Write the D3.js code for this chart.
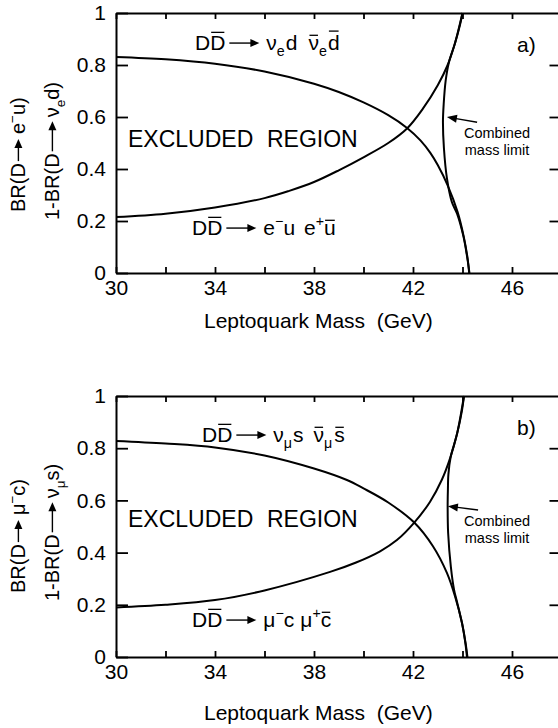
<!DOCTYPE html>
<html>
<head>
<meta charset="utf-8">
<script src="https://cdn.jsdelivr.net/npm/d3@7"></script>
<style>
  body { margin: 0; background: #fff; }
  text { font-family: "Liberation Sans", Arial, Helvetica, sans-serif; fill: #000; }
</style>
</head>
<body>
<svg id="chart" width="558" height="728"></svg>
<script>
// tick labels
const massTicks = [30, 34, 38, 42, 46]
const massMinor = [32, 36, 40, 44]
const brTicks = [0, 0.2, 0.4, 0.6, 0.8, 1]
const brTickLabels = ['0', '0.2', '0.4', '0.6', '0.8', '1']

// panel a) : D -> nu_e d  vs  D -> e u
const aNuMass = [30, 32, 34, 36, 38, 39, 40, 41, 41.76, 42.3, 42.7, 43.0, 43.4, 43.8, 44.05, 44.2, 44.27]
const aNuBR = [0.831, 0.822, 0.805, 0.775, 0.728, 0.696, 0.656, 0.607, 0.558, 0.510, 0.462, 0.415, 0.337, 0.235, 0.140, 0.060, 0]
const aEMass = [30, 32, 34, 36, 37, 38, 39, 40, 41, 41.76, 42.4, 43.0, 43.4, 43.7, 43.9, 44.0]
const aEBR = [0.215, 0.228, 0.252, 0.288, 0.316, 0.350, 0.395, 0.445, 0.500, 0.556, 0.632, 0.722, 0.800, 0.885, 0.955, 1.0]
const aCombMass = [44.0, 43.7, 43.45, 43.32, 43.24, 43.21, 43.25, 43.37, 43.57, 43.78, 44.04, 44.19, 44.28]
const aCombBR = [1.0, 0.885, 0.81, 0.74, 0.65, 0.58, 0.48, 0.365, 0.273, 0.228, 0.14, 0.06, 0]

// panel b) : D -> nu_mu s  vs  D -> mu c
const bNuMass = [30, 32, 34, 36, 38, 39.33, 40, 41, 42.05, 42.8, 43.37, 43.7, 43.98, 44.12, 44.18]
const bNuBR = [0.828, 0.818, 0.803, 0.772, 0.722, 0.678, 0.646, 0.592, 0.515, 0.425, 0.322, 0.232, 0.130, 0.050, 0]
const bMuMass = [30, 32, 34, 36, 38.65, 39.7, 40.67, 41.35, 42.05, 42.69, 43.17, 43.5, 43.78, 43.98, 44.06]
const bMuBR = [0.19, 0.20, 0.218, 0.255, 0.326, 0.362, 0.405, 0.448, 0.515, 0.595, 0.68, 0.762, 0.855, 0.945, 1.0]
const bCombMass = [44.06, 43.78, 43.52, 43.43, 43.41, 43.40, 43.42, 43.53, 43.66, 43.76, 43.98, 44.13, 44.2]
const bCombBR = [1.0, 0.855, 0.765, 0.70, 0.64, 0.575, 0.475, 0.345, 0.257, 0.218, 0.13, 0.05, 0]

const svg = d3.select('#chart')
const x = d3.scaleLinear().domain([30, 48]).range([116, 561.5])

// draws text pieces one after another (sub/sup, overbars, long arrows)
function rich (g, x0, y0, parts, size) {
  let cx = x0
  parts.forEach(p => {
    if (p.gap) { cx += p.gap; return }
    if (p.arrow) {
      const ay = y0 - size * 0.33
      g.append('line')
          .attr('x1', cx).attr('x2', cx + p.arrow - 6)
          .attr('y1', ay).attr('y2', ay)
          .attr('stroke', '#000').attr('stroke-width', 1.4)
      g.append('path')
          .attr('d', `M${cx + p.arrow},${ay}L${cx + p.arrow - 9},${ay - 4}L${cx + p.arrow - 9},${ay + 4}Z`)
          .attr('fill', '#000')
      cx += p.arrow
      return
    }
    const fs = (p.sub || p.sup) ? size * 0.68 : size
    const ty = p.sub ? y0 + size * 0.28 : p.sup ? y0 - size * 0.42 : y0
    const t = g.append('text').attr('x', cx).attr('y', ty)
        .attr('font-size', fs).text(p.t)
    const w = t.node().getComputedTextLength()
    if (p.bar) {
      const by = ty - fs * p.bar
      g.append('line')
          .attr('x1', cx + 1).attr('x2', cx + w - 1)
          .attr('y1', by).attr('y2', by)
          .attr('stroke', '#000').attr('stroke-width', 1.3)
    }
    cx += w
  })
}

function drawPanel (cfg) {
  const y = d3.scaleLinear().domain([0, 1]).range([cfg.bottom, cfg.top])
  const g = svg.append('g')

  const axisStyle = sel => {
    sel.selectAll('path.domain').attr('stroke-width', 2)
    sel.selectAll('.tick line').attr('stroke-width', 1.8)
    sel.selectAll('text').attr('font-size', 21)
        .attr('font-family', '"Liberation Sans", Arial, sans-serif')
  }

  g.append('g').attr('transform', `translate(0,${cfg.bottom})`)
      .call(d3.axisBottom(x).tickValues(massTicks.concat(massMinor))
          .tickFormat(d => massTicks.includes(d) ? d : '')
          .tickSize(-6).tickSizeOuter(0).tickPadding(7))
      .call(axisStyle)
  g.append('g').attr('transform', `translate(0,${cfg.top})`)
      .call(d3.axisTop(x).tickValues(massTicks.concat(massMinor))
          .tickFormat('').tickSize(-6).tickSizeOuter(0))
      .call(axisStyle)
  g.append('g').attr('transform', `translate(${x(30)},0)`)
      .call(d3.axisLeft(y).tickValues(brTicks)
          .tickFormat((d, i) => brTickLabels[i])
          .tickSize(-12).tickSizeOuter(0).tickPadding(10))
      .call(axisStyle)
  g.append('g').attr('transform', `translate(${x(48)},0)`)
      .call(d3.axisRight(y).tickValues(brTicks.slice(1, 5))
          .tickFormat('').tickSize(-12).tickSizeOuter(0))
      .call(axisStyle)

  const line = d3.line()
      .x(d => x(d[0])).y(d => y(d[1]))
      .curve(d3.curveCatmullRom.alpha(0.5))
  cfg.curves.forEach(c => {
    g.append('path')
        .datum(d3.zip(c[0], c[1]))
        .attr('d', line)
        .attr('fill', 'none')
        .attr('stroke', '#000')
        .attr('stroke-width', 2)
  })

  // texts
  g.append('text').attr('x', 128).attr('y', cfg.top + cfg.exclY)
      .attr('font-size', 23).text('EXCLUDED')
  g.append('text').attr('x', 267).attr('y', cfg.top + cfg.exclY)
      .attr('font-size', 23).text('REGION')
  g.append('text').attr('x', 517).attr('y', cfg.top + 39)
      .attr('font-size', 21).text(cfg.tag)

  rich(g, cfg.upX, cfg.top + cfg.upY, cfg.upParts, 21)
  rich(g, 192, cfg.top + cfg.lowY, cfg.lowParts, 21)

  // combined mass limit note
  const hx = x(cfg.note[0]), hy = y(cfg.note[1])
  const tx = x(cfg.note[2]), ty = y(cfg.note[3])
  const ang = Math.atan2(ty - hy, tx - hx)
  g.append('line').attr('x1', tx).attr('y1', ty)
      .attr('x2', hx + 8 * Math.cos(ang)).attr('y2', hy + 8 * Math.sin(ang))
      .attr('stroke', '#000').attr('stroke-width', 1.4)
  g.append('path')
      .attr('d', d3.line()([[hx, hy],
        [hx + 10 * Math.cos(ang) - 4 * Math.sin(ang), hy + 10 * Math.sin(ang) + 4 * Math.cos(ang)],
        [hx + 10 * Math.cos(ang) + 4 * Math.sin(ang), hy + 10 * Math.sin(ang) - 4 * Math.cos(ang)]]) + 'Z')
      .attr('fill', '#000')
  g.append('text').attr('x', 497).attr('y', ty + 16)
      .attr('text-anchor', 'middle').attr('font-size', 14.5).text('Combined')
  g.append('text').attr('x', 497).attr('y', ty + 33)
      .attr('text-anchor', 'middle').attr('font-size', 14.5).text('mass limit')

  // x title
  g.append('text').attr('x', 204).attr('y', cfg.bottom + cfg.titleY)
      .attr('font-size', 21).style('white-space', 'pre')
      .text('Leptoquark Mass  (GeV)')

  // y titles, rotated
  const l1 = g.append('g').attr('transform', `translate(25,${cfg.labY + 62}) rotate(-90)`)
  rich(l1, 0, 0, cfg.yLab1, 20)
  const l2 = g.append('g').attr('transform', `translate(59,${cfg.labY + 70}) rotate(-90)`)
  rich(l2, 0, 0, cfg.yLab2, 20)
}

const DD = [{t: 'D'}, {t: 'D', bar: 0.84}, {gap: 4}, {arrow: 30}, {gap: 7}]

drawPanel({
  top: 13,
  bottom: 273,
  tag: 'a)',
  exclY: 134,
  upX: 195,
  upY: 37,
  lowY: 222,
  labY: 150,
  titleY: 55,
  curves: [[aNuMass, aNuBR], [aEMass, aEBR], [aCombMass, aCombBR]],
  note: [43.37, 0.6, 44.59, 0.58],
  upParts: DD.concat([{t: 'ν'}, {t: 'e', sub: true}, {gap: 1}, {t: 'd'}, {gap: 11},
    {t: 'ν', bar: 0.7}, {t: 'e', sub: true}, {gap: 1}, {t: 'd', bar: 0.9}]),
  lowParts: DD.concat([{t: 'e'}, {t: '−', sup: true}, {t: 'u'}, {gap: 9},
    {t: 'e'}, {t: '+', sup: true}, {t: 'u', bar: 0.7}]),
  yLab1: [{t: 'BR(D'}, {gap: 2}, {arrow: 22}, {gap: 5}, {t: 'e'}, {t: '−', sup: true}, {t: 'u)'}],
  yLab2: [{t: '1-BR(D'}, {gap: 2}, {arrow: 30}, {gap: 4}, {t: 'ν'}, {t: 'e', sub: true}, {t: 'd)'}]
})

drawPanel({
  top: 396,
  bottom: 657,
  tag: 'b)',
  exclY: 131,
  upX: 202,
  upY: 46,
  lowY: 231,
  labY: 531,
  titleY: 63,
  curves: [[bNuMass, bNuBR], [bMuMass, bMuBR], [bCombMass, bCombBR]],
  note: [43.41, 0.578, 44.63, 0.563],
  upParts: DD.concat([{t: 'ν'}, {t: 'μ', sub: true}, {gap: 1}, {t: 's'}, {gap: 10},
    {t: 'ν', bar: 0.7}, {t: 'μ', sub: true}, {gap: 2}, {t: 's', bar: 0.7}]),
  lowParts: DD.concat([{t: 'μ'}, {t: '−', sup: true}, {t: 'c'}, {gap: 6},
    {t: 'μ'}, {t: '+', sup: true}, {t: 'c', bar: 0.7}]),
  yLab1: [{t: 'BR(D'}, {gap: 2}, {arrow: 22}, {gap: 5}, {t: 'μ'}, {t: '−', sup: true}, {t: 'c)'}],
  yLab2: [{t: '1-BR(D'}, {gap: 2}, {arrow: 30}, {gap: 4}, {t: 'ν'}, {t: 'μ', sub: true}, {t: 's)'}]
})
</script>
</body>
</html>
